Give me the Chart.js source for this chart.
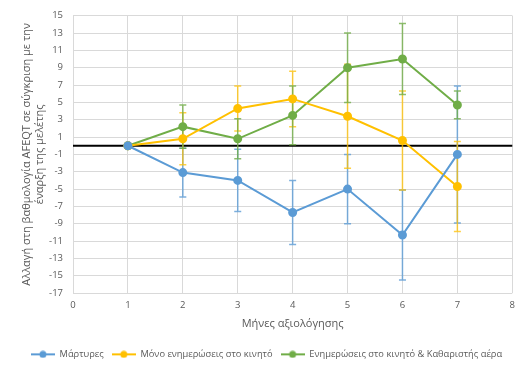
<!DOCTYPE html>
<html>
<head>
<meta charset="utf-8">
<script src="https://cdn.jsdelivr.net/npm/chart.js@4/dist/chart.umd.min.js"></script>
<style>
    html, body { margin: 0; padding: 0; background: #fff; }
    #wrap { width: 521px; height: 372px; }
</style>
</head>
<body>
<div id="wrap"><canvas id="afeqt"></canvas></div>
<script>
const months = [1, 2, 3, 4, 5, 6, 7]
const xTickMin = 0
const xTickMax = 8
const yTickMin = -17
const yTickMax = 15

const controlLabel = "Μάρτυρες"
const controlValues = [0, -3.1, -4.0, -7.7, -5.0, -10.3, -1.0]
const controlErrors = [0, 2.8, 3.6, 3.7, 4.0, 5.2, 7.9]

const phoneLabel = "Μόνο ενημερώσεις στο κινητό"
const phoneValues = [0, 0.8, 4.3, 5.4, 3.4, 0.6, -4.7]
const phoneErrors = [0, 3.0, 2.6, 3.2, 6.0, 5.7, 5.2]

const purifierLabel = "Ενημερώσεις στο κινητό & Καθαριστής αέρα"
const purifierValues = [0, 2.2, 0.8, 3.5, 9.0, 10.0, 4.7]
const purifierErrors = [0, 2.5, 2.3, 3.4, 4.0, 4.1, 1.6]

const textColor = "#595959"
const gridColor = "#d9d9d9"
const fontFamily = "'Open Sans', 'Noto Sans', sans-serif"

const legendIcon = (color) => {
    const c = document.createElement("canvas")
    c.width = 24
    c.height = 8
    const g = c.getContext("2d")
    g.strokeStyle = color
    g.lineWidth = 2
    g.beginPath()
    g.moveTo(0, 4)
    g.lineTo(24, 4)
    g.stroke()
    g.fillStyle = color
    g.beginPath()
    g.arc(12, 4, 3.5, 0, Math.PI * 2)
    g.fill()
    return c
}

const makeDataset = (label, values, errors, color, errColor) => {
    return {
        label: label,
        data: months.map((m, i) => { return { x: m, y: values[i] } }),
        errors: errors,
        errColor: errColor,
        borderColor: color,
        backgroundColor: color,
        borderWidth: 2,
        pointRadius: 3.5,
        pointHoverRadius: 3.5,
        pointStyle: "circle",
        legendIcon: legendIcon(color),
        tension: 0
    }
}

// error bars and the zero line, drawn under the series
const extras = {
    id: "extras",
    beforeDatasetsDraw(chart) {
        const ctx = chart.ctx
        const xs = chart.scales.x
        const ys = chart.scales.y
        const area = chart.chartArea

        ctx.save()
        ctx.strokeStyle = "#000"
        ctx.lineWidth = 2
        ctx.beginPath()
        ctx.moveTo(area.left, ys.getPixelForValue(0))
        ctx.lineTo(area.right, ys.getPixelForValue(0))
        ctx.stroke()

        chart.data.datasets.forEach((ds) => {
            ctx.strokeStyle = ds.errColor
            ctx.lineWidth = 1.5
            ds.data.forEach((p, i) => {
                const e = ds.errors[i]
                if (!e) return
                const px = xs.getPixelForValue(p.x)
                const top = ys.getPixelForValue(p.y + e)
                const bot = ys.getPixelForValue(p.y - e)
                ctx.beginPath()
                ctx.moveTo(px, top)
                ctx.lineTo(px, bot)
                ctx.moveTo(px - 3.5, top)
                ctx.lineTo(px + 3.5, top)
                ctx.moveTo(px - 3.5, bot)
                ctx.lineTo(px + 3.5, bot)
                ctx.stroke()
            })
        })
        ctx.restore()
    }
}

const ctx = document.getElementById("afeqt").getContext("2d")

const chart = new Chart(ctx, {
    type: "line",
    data: {
        datasets: [
            makeDataset(controlLabel, controlValues, controlErrors, "#5b9bd5", "rgba(91,155,213,0.8)"),
            makeDataset(phoneLabel, phoneValues, phoneErrors, "#ffc000", "rgba(255,192,0,0.75)"),
            makeDataset(purifierLabel, purifierValues, purifierErrors, "#70ad47", "rgba(112,173,71,0.8)")
        ]
    },
    options: {
        responsive: true,
        maintainAspectRatio: false,
        animation: false,
        layout: { padding: { top: 8, right: 8, bottom: 3, left: 20 } },
        plugins: {
            tooltip: { enabled: false },
            legend: {
                position: "bottom",
                labels: {
                    usePointStyle: true,
                    pointStyleWidth: 24,
                    color: textColor,
                    padding: 8,
                    font: { family: fontFamily, size: 9.3 },
                    generateLabels: (chart) => {
                        return chart.data.datasets.map((ds, i) => {
                            return {
                                text: ds.label,
                                fillStyle: ds.borderColor,
                                strokeStyle: ds.borderColor,
                                lineWidth: 0,
                                pointStyle: ds.legendIcon,
                                fontColor: textColor,
                                datasetIndex: i
                            }
                        })
                    }
                }
            }
        },
        scales: {
            x: {
                type: "linear",
                min: xTickMin,
                max: xTickMax,
                ticks: { stepSize: 1, color: textColor, font: { family: fontFamily, size: 9.5 }, padding: 6 },
                grid: { color: gridColor, drawTicks: false },
                border: { display: false },
                title: {
                    display: true,
                    text: "Μήνες αξιολόγησης",
                    color: textColor,
                    font: { family: fontFamily, size: 11 },
                    padding: { top: 1, bottom: 11 }
                }
            },
            y: {
                min: yTickMin,
                max: yTickMax,
                ticks: { stepSize: 2, color: textColor, font: { family: fontFamily, size: 9.5 }, padding: 10 },
                grid: { color: gridColor, drawTicks: false },
                border: { display: false },
                afterFit: (scale) => { scale.width = 53 },
                title: {
                    display: true,
                    text: ["Αλλαγή στη βαθμολογία AFEQT σε σύγκριση με την", "έναρξη της μελέτης"],
                    color: textColor,
                    font: { family: fontFamily, size: 11 },
                    padding: { top: 0, bottom: 2 }
                }
            }
        }
    },
    plugins: [extras]
})
</script>
</body>
</html>
